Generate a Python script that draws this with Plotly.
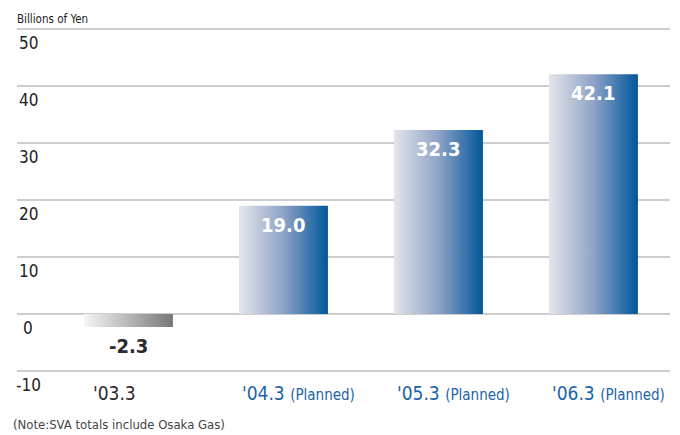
import plotly.graph_objects as go

# Shareholder value added by fiscal year (billions of yen)
periods = ["'03.3", "'04.3", "'05.3", "'06.3"]
suffixes = ["", "(Planned)", "(Planned)", "(Planned)"]
values = [-2.3, 19.0, 32.3, 42.1]
y_ticks = [50, 40, 30, 20, 10, 0, -10]

FONT = "'Liberation Sans Narrow', 'DejaVu Sans Condensed', 'Arial Narrow', sans-serif"
BLUE_TEXT = "#1b63a8"
HALF = 0.287  # half bar width in category units

fig = go.Figure()

for i, v in enumerate(values):
    xs = [i - HALF, i + HALF, i + HALF, i - HALF, i - HALF]
    ys = [0, 0, v, v, 0]
    if v >= 0:
        scale = [[0, "#e4e5eb"], [0.5, "#8ea3c6"], [1, "#00569b"]]
    else:
        scale = [[0, "#f6f6f6"], [1, "#777777"]]
    fig.add_trace(go.Scatter(
        x=xs, y=ys, mode="lines", fill="toself",
        line=dict(width=0, color="rgba(0,0,0,0)"),
        fillgradient=dict(type="horizontal", colorscale=scale),
        hoverinfo="skip", showlegend=False,
    ))

annotations = []

# value labels: white inside the top of positive bars, dark below negative ones
for i, v in enumerate(values):
    annotations.append(dict(
        x=i, y=v, xref="x", yref="y", text=f"<b>{v:.1f}</b>",
        showarrow=False, xanchor="center", yanchor="middle",
        yshift=-19,
        font=dict(family=FONT, size=20, color="white" if v >= 0 else "#2b2b2b"),
    ))

# category labels under the plot
for i, (p, s) in enumerate(zip(periods, suffixes)):
    if s:
        txt = f"{p} <span style='font-size:15px'>{s}</span>"
        col = BLUE_TEXT
    else:
        txt = p
        col = "#2b2b2b"
    annotations.append(dict(
        x=i - HALF, y=0, xref="x", yref="paper", text=txt,
        showarrow=False, xanchor="left", yanchor="middle",
        xshift=1 if s else 7, yshift=-21,
        font=dict(family=FONT, size=19, color=col),
    ))

# y tick labels sit just below their gridlines
for t in y_ticks:
    annotations.append(dict(
        x=0, y=t, xref="paper", yref="y", text=str(t),
        showarrow=False, xanchor="center", yanchor="middle",
        xshift=11, yshift=-14,
        font=dict(family=FONT, size=17, color="#222222"),
    ))

annotations.append(dict(
    x=0, y=1, xref="paper", yref="paper", text="Billions of Yen",
    showarrow=False, xanchor="left", yanchor="middle", yshift=9, xshift=-2,
    font=dict(family=FONT, size=11.5, color="#222222"),
))
annotations.append(dict(
    x=0, y=0, xref="paper", yref="paper",
    text="(Note:SVA totals include Osaka Gas)",
    showarrow=False, xanchor="left", yanchor="middle", yshift=-52, xshift=-6,
    font=dict(family=FONT, size=13, color="#444444"),
))

fig.update_layout(
    width=680, height=435,
    margin=dict(l=17, r=10, t=28, b=63),
    paper_bgcolor="white", plot_bgcolor="white",
    annotations=annotations,
    xaxis=dict(range=[-0.719, 3.494], showgrid=False, zeroline=False,
               showticklabels=False, showline=False, fixedrange=True),
    yaxis=dict(range=[-10.2, 50.2], tickvals=y_ticks, showticklabels=False,
               showgrid=True, gridcolor="#cdcdcd", gridwidth=1.5,
               zeroline=True, zerolinecolor="#cdcdcd", zerolinewidth=1.5,
               showline=False, fixedrange=True),
)

fig.write_html("out.html")
